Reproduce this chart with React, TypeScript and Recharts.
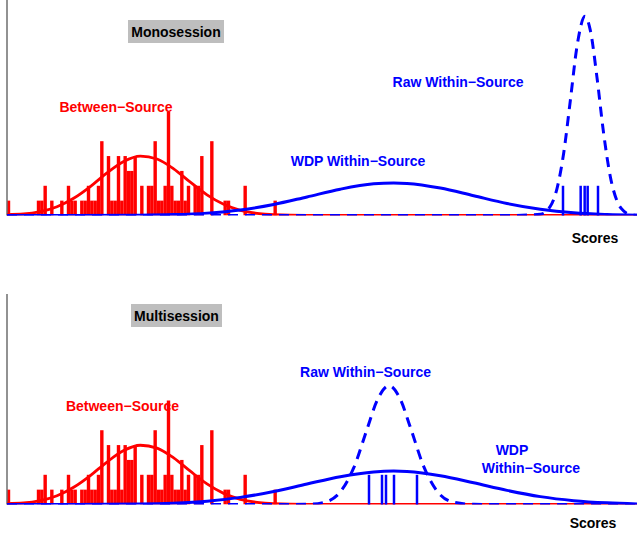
import React from 'react';
import { ComposedChart, Bar, Line, XAxis, YAxis, ReferenceLine } from 'recharts';

// Between-source score histogram: bin index along the score axis and count per bin
const betweenBins = [0, 9, 10, 11, 13, 16, 18, 19, 20, 22, 23, 24, 25, 26, 27, 28, 30, 31, 32, 33, 34, 35, 36, 37, 38, 40, 42, 43, 44, 45, 46, 47, 48, 49, 50, 51, 52, 53, 54, 56, 57, 58, 61, 65, 66, 71, 80];
const betweenCounts = [1, 1, 1, 2, 1, 1, 2, 1, 1, 1, 1, 2, 1, 1, 2, 5, 4, 1, 1, 4, 1, 4, 3, 3, 4, 2, 2, 2, 5, 1, 1, 2, 7, 2, 1, 1, 3, 1, 2, 2, 2, 4, 5, 1, 1, 2, 1];

// Between-source density curve (shared by both sessions)
const betweenCurveX = [0, 5, 10, 15, 20, 25, 30, 35, 40, 45, 50, 55, 60, 65, 70, 75, 80, 90, 189];
const betweenCurveY = [0.06, 0.1, 0.26, 0.59, 1.16, 1.95, 2.86, 3.63, 3.99, 3.8, 3.14, 2.24, 1.39, 0.75, 0.35, 0.14, 0.05, 0.01, 0];

// Monosession within-source densities and raw scores
const monoWdpX = [0, 20, 40, 50, 60, 70, 80, 90, 100, 110, 116, 120, 130, 140, 150, 160, 170, 180, 189];
const monoWdpY = [0, 0, 0.02, 0.06, 0.16, 0.37, 0.74, 1.25, 1.77, 2.13, 2.19, 2.16, 1.85, 1.33, 0.81, 0.42, 0.18, 0.07, 0.02];
const monoRawX = [0, 150, 160, 163, 165, 167, 169, 171, 173.4, 175, 177, 179, 181, 183, 185, 187, 189];
const monoRawY = [0, 0, 0.08, 0.62, 1.81, 4.19, 7.74, 11.38, 13.4, 12.46, 9.28, 5.51, 2.61, 0.98, 0.3, 0.07, 0.01];
const monoRawScores = [166.8, 172.1, 173.3, 174.2, 177.3];

// Multisession within-source densities and raw scores
const multiWdpX = [0, 20, 40, 50, 60, 70, 80, 90, 100, 110, 116, 120, 130, 140, 150, 160, 170, 180, 189];
const multiWdpY = [0, 0, 0.03, 0.09, 0.22, 0.48, 0.87, 1.38, 1.87, 2.19, 2.25, 2.22, 1.94, 1.46, 0.95, 0.53, 0.26, 0.11, 0.04];
const multiRawX = [0, 80, 90, 95, 100, 104, 108, 111, 114.6, 118, 121, 125, 129, 134, 140, 150, 189];
const multiRawY = [0, 0, 0.01, 0.14, 0.85, 2.46, 5.06, 6.98, 8.0, 7.08, 5.2, 2.57, 0.91, 0.15, 0.01, 0, 0];
const multiRawScores = [108.6, 112.5, 113.7, 116.1, 123.0];

const rugHeight = 2;
const scoreMax = 189;

const RED = '#FF0000';
const BLUE = '#0000FF';
const FONT = '"Liberation Sans", Arial, Helvetica, sans-serif';
const BAR_WIDTH = 3.4;

const toPoints = (xs: number[], ys: number[]) => xs.map((x, i) => ({ x, y: ys[i] }));

const histogram = betweenBins.map((b, i) => ({ x: b + 0.5, count: betweenCounts[i] }));
const betweenCurve = toPoints(betweenCurveX, betweenCurveY);

// Histogram bar drawn centred on its bin with a fixed width
const HistBar = (props: any) => {
  const { x, y, width, height } = props;
  if (!height || height <= 0) return null;
  const cx = x + width / 2;
  return <rect x={cx - BAR_WIDTH / 2} y={y} width={BAR_WIDTH} height={height} fill={RED} />;
};

interface PanelProps {
  height: number;
  bottom: number;
  yMax: number;
  wdp: { x: number; y: number }[];
  raw: { x: number; y: number }[];
  rug: number[];
}

function Panel({ height, bottom, yMax, wdp, raw, rug }: PanelProps) {
  return (
    <ComposedChart
      width={637}
      height={height}
      data={histogram}
      margin={{ top: 0, right: 0, bottom, left: 7 }}
    >
      <XAxis type="number" dataKey="x" domain={[0, scoreMax]} hide allowDataOverflow />
      <YAxis type="number" domain={[0, yMax]} hide allowDataOverflow />
      <ReferenceLine x={0} stroke="#6e6e6e" strokeWidth={1.5} />
      <Bar dataKey="count" fill={RED} shape={HistBar} isAnimationActive={false} />
      <Line
        data={betweenCurve}
        dataKey="y"
        type="monotone"
        stroke={RED}
        strokeWidth={2.8}
        dot={false}
        activeDot={false}
        isAnimationActive={false}
      />
      <Line
        data={raw}
        dataKey="y"
        type="monotone"
        stroke={BLUE}
        strokeWidth={3}
        strokeDasharray="10 7"
        dot={false}
        activeDot={false}
        isAnimationActive={false}
      />
      <Line
        data={wdp}
        dataKey="y"
        type="monotone"
        stroke={BLUE}
        strokeWidth={3}
        dot={false}
        activeDot={false}
        isAnimationActive={false}
      />
      {rug.map((s) => (
        <ReferenceLine
          key={s}
          segment={[
            { x: s, y: 0 },
            { x: s, y: rugHeight },
          ]}
          stroke={BLUE}
          strokeWidth={2.5}
        />
      ))}
    </ComposedChart>
  );
}

const labelStyle = { fontFamily: FONT, fontWeight: 700, fontSize: 14 } as const;

export default function App() {
  return (
    <div style={{ position: 'absolute', left: 0, top: 0, width: 637, height: 534, background: '#fff' }}>
      <div style={{ position: 'absolute', left: 0, top: 0 }}>
        <Panel
          height={267}
          bottom={51.5}
          yMax={14.5}
          wdp={toPoints(monoWdpX, monoWdpY)}
          raw={toPoints(monoRawX, monoRawY)}
          rug={monoRawScores}
        />
      </div>
      <div style={{ position: 'absolute', left: 0, top: 294 }}>
        <Panel
          height={240}
          bottom={29.5}
          yMax={14.17}
          wdp={toPoints(multiWdpX, multiWdpY)}
          raw={toPoints(multiRawX, multiRawY)}
          rug={multiRawScores}
        />
      </div>
      <svg
        width={637}
        height={534}
        style={{ position: 'absolute', left: 0, top: 0, pointerEvents: 'none' }}
      >
        <g style={labelStyle}>
          {/* Monosession panel */}
          <rect x={128} y={20} width={96} height={23} fill="#BEBEBE" />
          <text x={176} y={37} textAnchor="middle" fill="#000">Monosession</text>
          <text x={458} y={87} textAnchor="middle" fill={BLUE}>Raw Within−Source</text>
          <text x={116} y={112} textAnchor="middle" fill={RED}>Between−Source</text>
          <text x={358} y={166} textAnchor="middle" fill={BLUE}>WDP Within−Source</text>
          <text x={595} y={243} textAnchor="middle" fill="#000">Scores</text>

          {/* Multisession panel */}
          <rect x={131} y={304} width={91} height={23} fill="#BEBEBE" />
          <text x={176.5} y={320.5} textAnchor="middle" fill="#000">Multisession</text>
          <text x={365.5} y={377} textAnchor="middle" fill={BLUE}>Raw Within−Source</text>
          <text x={122.5} y={410.5} textAnchor="middle" fill={RED}>Between−Source</text>
          <text x={512} y={455} textAnchor="middle" fill={BLUE}>WDP</text>
          <text x={531} y={473} textAnchor="middle" fill={BLUE}>Within−Source</text>
          <text x={593} y={528} textAnchor="middle" fill="#000">Scores</text>
        </g>
      </svg>
    </div>
  );
}
